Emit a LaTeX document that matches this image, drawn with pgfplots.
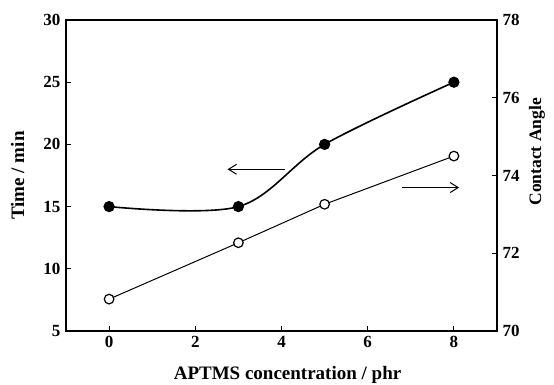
\documentclass[border=0pt]{standalone}
\usepackage{pgfplots}
\pgfplotsset{compat=1.18}
\usetikzlibrary{arrows.meta}
\usepackage{fontspec}
\setmainfont{Liberation Serif}
\begin{document}
\begin{tikzpicture}[font=\bfseries]
\begin{axis}[
  at={(0pt,0pt)}, anchor=south west,
  width=431pt, height=311pt, scale only axis,
  xmin=-1, xmax=9, ymin=5, ymax=30,
  xtick={0,2,4,6,8}, ytick={5,10,15,20,25,30},
  xtick pos=bottom, ytick pos=left,
  tick align=inside,
  major tick length=5pt,
  axis line style={line width=1.1pt},
  every tick/.style={line width=1pt,black},
  tick label style={font=\bfseries\fontsize{17}{17}\selectfont},
  xticklabel style={yshift=-2pt},
  yticklabel style={xshift=-2pt},
  /pgf/number format/assume math mode=true,
  xlabel={APTMS concentration / phr},
  ylabel={Time / min},
  label style={font=\bfseries\fontsize{19}{19}\selectfont},
  xlabel style={at={(axis description cs:0.514,-0.142)}, anchor=center},
  ylabel style={at={(axis description cs:-0.112,0.5)}, anchor=center},
  clip=false,
]
\addplot[black, line width=1.6pt, smooth, tension=0.55, mark=*, mark size=4.8pt, mark options={fill=black}]
  coordinates {(0,15) (3,15) (5,20) (8,25)};
\draw[-{Straight Barb[length=8pt,width=10pt]}, line width=1pt] (axis cs:4.07,18) -- (axis cs:2.75,18);
\end{axis}
\begin{axis}[
  at={(0pt,0pt)}, anchor=south west,
  width=431pt, height=311pt, scale only axis,
  xmin=-1, xmax=9, ymin=70, ymax=78,
  axis x line=none,
  axis y line*=right,
  ytick={70,72,74,76,78},
  tick align=inside,
  major tick length=5pt,
  axis line style={line width=1.1pt,-},
  every tick/.style={line width=1pt,black},
  tick label style={font=\bfseries\fontsize{17}{17}\selectfont},
  yticklabel style={xshift=2pt},
  /pgf/number format/assume math mode=true,
  ylabel={Contact Angle},
  label style={font=\bfseries\fontsize{17.5}{17.5}\selectfont},
  ylabel style={at={(axis description cs:1.093,0.576)}, anchor=center},
  clip=false,
]
\addplot[black, line width=1pt, mark=*, mark size=4.8pt, mark options={fill=white, line width=1.2pt}]
  coordinates {(0,70.82) (3,72.27) (5,73.26) (8,74.5)};
\draw[-{Straight Barb[length=8pt,width=10pt]}, line width=1pt] (axis cs:6.8,73.69) -- (axis cs:8.12,73.69);
\end{axis}
\pgfresetboundingbox
\useasboundingbox (-66pt,-54pt) rectangle (488pt,331pt);
\end{tikzpicture}
\end{document}
